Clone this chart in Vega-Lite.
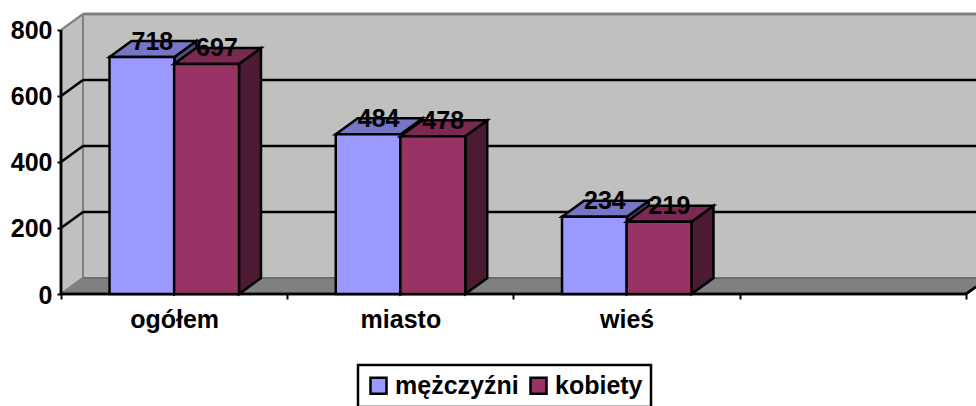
{
"$schema":"https://vega.github.io/schema/vega-lite/v6.json",
"autosize":{"type":"none"},
"padding":{"left":61,"top":10,"right":0,"bottom":112},
"width":915,"height":284,
"background":"white",
"config":{"view":{"stroke":null},"font":"Liberation Sans"},
"datasets":{
"slupki":[
{"kategoria":"ogółem","plec":"mężczyźni","wartosc":718},
{"kategoria":"ogółem","plec":"kobiety","wartosc":697},
{"kategoria":"miasto","plec":"mężczyźni","wartosc":484},
{"kategoria":"miasto","plec":"kobiety","wartosc":478},
{"kategoria":"wieś","plec":"mężczyźni","wartosc":234},
{"kategoria":"wieś","plec":"kobiety","wartosc":219}
],
"siatka":[{"v":200},{"v":400},{"v":600}]
},
"data":{"values":[{"t":0},{"t":1}]},
"layer":[
{"mark":{"type":"rect","fill":"#C0C0C0"},
 "encoding":{
  "x":{"datum":0.0972,"type":"quantitative","scale":{"domain":[0,4.0442],"nice":false,"zero":false},
   "axis":{"title":null,"grid":false,"domain":false,"values":[0,0.5,1,1.5,2,2.5,3,3.5,4],
    "labelExpr":"datum.value==0.5?'ogółem':datum.value==1.5?'miasto':datum.value==2.5?'wieś':''",
    "labelFont":"Liberation Sans","labelFontWeight":"bold","labelFontSize":25,"labelColor":"black","labelPadding":8,"labelFlush":false,"labelOverlap":false,"labelBound":false,
    "tickColor":"black","tickWidth":2,"tickSize":5,"tickOpacity":{"condition":{"test":"datum.value % 1 != 0","value":0},"value":1}}},
  "x2":{"datum":4.1},
  "y":{"datum":48.5,"type":"quantitative","scale":{"domain":[0,860.6],"nice":false,"zero":false},
   "axis":{"title":null,"grid":false,"domain":false,"values":[0,200,400,600,800],
    "labelFont":"Liberation Sans","labelFontWeight":"bold","labelFontSize":25,"labelColor":"black","labelPadding":5,"labelOffset":1,
    "tickColor":"black","tickWidth":2,"tickSize":4}},
  "y2":{"datum":848.5}
 }},
{"transform":[{"calculate":"datum.t*0.0972","as":"px"},{"calculate":"datum.t*48.5","as":"d"},{"calculate":"800+datum.d","as":"g"}],
 "mark":{"type":"area","fill":"#C0C0C0"},
 "encoding":{"x":{"field":"px","type":"quantitative"},"y":{"field":"g","type":"quantitative"},"y2":{"field":"d"}}},
{"data":{"values":[{"t":0},{"t":1},{"t":2},{"t":3}]},
 "transform":[{"calculate":"datum.t==0?0:datum.t==1?0.0972:datum.t==2?4:4.0972","as":"px"},
  {"calculate":"datum.t==0?0:48.5","as":"g"},{"calculate":"datum.t==3?48.5:0","as":"d"}],
 "mark":{"type":"area","fill":"#808080"},
 "encoding":{"x":{"field":"px","type":"quantitative"},"y":{"field":"g","type":"quantitative"},"y2":{"field":"d"}}},
{"mark":{"type":"rule","color":"#808080","strokeWidth":2.5},"encoding":{"x":{"datum":0.0972},"x2":{"datum":4.1},"y":{"datum":848.5},"y2":{"datum":848.5}}},
{"mark":{"type":"rule","color":"#808080","strokeWidth":2},"encoding":{"x":{"datum":0.0972},"x2":{"datum":0.0972},"y":{"datum":48.5},"y2":{"datum":848.5}}},
{"mark":{"type":"rule","color":"#6E6E6E","strokeWidth":2},"encoding":{"x":{"datum":0.0972},"x2":{"datum":4.1},"y":{"datum":48.5},"y2":{"datum":48.5}}},
{"mark":{"type":"rule","color":"#808080","strokeWidth":2},"encoding":{"x":{"datum":0},"x2":{"datum":0.0972},"y":{"datum":800},"y2":{"datum":848.5}}},
{"mark":{"type":"rule","color":"#808080","strokeWidth":2},"encoding":{"x":{"datum":0},"x2":{"datum":0.0972},"y":{"datum":0},"y2":{"datum":48.5}}},
{"data":{"name":"siatka"},"transform":[{"calculate":"datum.v+48.5","as":"g"}],
 "mark":{"type":"rule","color":"black","strokeWidth":2.5},
 "encoding":{"x":{"datum":0},"x2":{"datum":0.0972},"y":{"field":"v","type":"quantitative"},"y2":{"field":"g"}}},
{"data":{"name":"siatka"},"transform":[{"calculate":"datum.v+48.5","as":"g"}],
 "mark":{"type":"rule","color":"black","strokeWidth":2.5},
 "encoding":{"x":{"datum":0.0972},"x2":{"datum":4.1},"y":{"field":"g","type":"quantitative"},"y2":{"field":"g"}}},
{"mark":{"type":"rule","color":"black","strokeWidth":2.5},"encoding":{"x":{"datum":0},"x2":{"datum":0},"y":{"datum":0},"y2":{"datum":800}}},
{"mark":{"type":"rule","color":"black","strokeWidth":2.5},"encoding":{"x":{"datum":0},"x2":{"datum":4},"y":{"datum":0},"y2":{"datum":0}}},
{"mark":{"type":"rule","color":"black","strokeWidth":2.5},"encoding":{"x":{"datum":4},"x2":{"datum":4.0442},"y":{"datum":0},"y2":{"datum":22}}},
{"data":{"name":"slupki"},
 "transform":[
  {"calculate":"indexof(['ogółem','miasto','wieś'],datum.kategoria)+(datum.plec=='mężczyźni'?0.2144:0.5)","as":"lewa"},
  {"calculate":"datum.lewa+0.2867","as":"prawa"}],
 "layer":[
  {"transform":[{"filter":"datum.plec=='mężczyźni'"},{"calculate":"[0,1]","as":"t"},{"flatten":["t"]},
    {"calculate":"datum.prawa+datum.t*0.0972","as":"px"},{"calculate":"datum.wartosc+datum.t*48.5","as":"g"},{"calculate":"datum.t*48.5","as":"d"}],
   "mark":{"type":"area","fill":"#4D4D80","stroke":"black","strokeWidth":2.5},
   "encoding":{"x":{"field":"px","type":"quantitative"},"y":{"field":"g","type":"quantitative"},"y2":{"field":"d"},"detail":{"field":"kategoria"}}},
  {"transform":[{"filter":"datum.plec=='mężczyźni'"},{"calculate":"[0,1,2,3]","as":"t"},{"flatten":["t"]},
    {"calculate":"datum.t==0?datum.lewa:datum.t==1?datum.lewa+0.0972:datum.t==2?datum.prawa:datum.prawa+0.0972","as":"px"},
    {"calculate":"datum.t==0?datum.wartosc:datum.wartosc+48.5","as":"g"},{"calculate":"datum.t==3?datum.wartosc+48.5:datum.wartosc","as":"d"}],
   "mark":{"type":"area","fill":"#7676C4","stroke":"black","strokeWidth":2.5},
   "encoding":{"x":{"field":"px","type":"quantitative"},"y":{"field":"g","type":"quantitative"},"y2":{"field":"d"},"detail":{"field":"kategoria"}}},
  {"transform":[{"filter":"datum.plec=='mężczyźni'"}],
   "mark":{"type":"rect","stroke":"black","strokeWidth":2.5},
   "encoding":{"x":{"field":"lewa","type":"quantitative"},"x2":{"field":"prawa"},"y":{"field":"wartosc","type":"quantitative"},"y2":{"datum":0},
    "color":{"field":"plec","type":"nominal","scale":{"domain":["mężczyźni","kobiety"],"range":["#9999FF","#993366"]},
     "legend":{"title":null,"orient":"none","legendX":297,"legendY":355,"direction":"horizontal","columns":2,"padding":8,"strokeColor":"black","fillColor":"white",
      "encode":{"legend":{"update":{"strokeWidth":{"value":2.5}}}},
      "symbolType":"square","symbolSize":256,"symbolStrokeColor":"black","symbolStrokeWidth":2.5,"symbolOpacity":1,
      "labelFont":"Liberation Sans","labelFontWeight":"bold","labelFontSize":25,"labelColor":"black","labelOffset":4,"columnPadding":6,"labelLimit":300}}}},
  {"transform":[{"filter":"datum.plec=='kobiety'"},{"calculate":"[0,1]","as":"t"},{"flatten":["t"]},
    {"calculate":"datum.prawa+datum.t*0.0972","as":"px"},{"calculate":"datum.wartosc+datum.t*48.5","as":"g"},{"calculate":"datum.t*48.5","as":"d"}],
   "mark":{"type":"area","fill":"#4D1A33","stroke":"black","strokeWidth":2.5},
   "encoding":{"x":{"field":"px","type":"quantitative"},"y":{"field":"g","type":"quantitative"},"y2":{"field":"d"},"detail":{"field":"kategoria"}}},
  {"transform":[{"filter":"datum.plec=='kobiety'"},{"calculate":"[0,1,2,3]","as":"t"},{"flatten":["t"]},
    {"calculate":"datum.t==0?datum.lewa:datum.t==1?datum.lewa+0.0972:datum.t==2?datum.prawa:datum.prawa+0.0972","as":"px"},
    {"calculate":"datum.t==0?datum.wartosc:datum.wartosc+48.5","as":"g"},{"calculate":"datum.t==3?datum.wartosc+48.5:datum.wartosc","as":"d"}],
   "mark":{"type":"area","fill":"#7A2952","stroke":"black","strokeWidth":2.5},
   "encoding":{"x":{"field":"px","type":"quantitative"},"y":{"field":"g","type":"quantitative"},"y2":{"field":"d"},"detail":{"field":"kategoria"}}},
  {"transform":[{"filter":"datum.plec=='kobiety'"}],
   "mark":{"type":"rect","stroke":"black","strokeWidth":2.5},
   "encoding":{"x":{"field":"lewa","type":"quantitative"},"x2":{"field":"prawa"},"y":{"field":"wartosc","type":"quantitative"},"y2":{"datum":0},
    "color":{"field":"plec","type":"nominal"}}},
  {"transform":[{"calculate":"(datum.lewa+datum.prawa)/2+0.046","as":"px"},{"calculate":"datum.wartosc+47","as":"g"}],
   "mark":{"type":"text","font":"Liberation Sans","fontWeight":"bold","fontSize":25,"color":"black","baseline":"middle","align":"center"},
   "encoding":{"x":{"field":"px","type":"quantitative"},"y":{"field":"g","type":"quantitative"},"text":{"field":"wartosc","type":"quantitative"}}}
 ]}
]
}
